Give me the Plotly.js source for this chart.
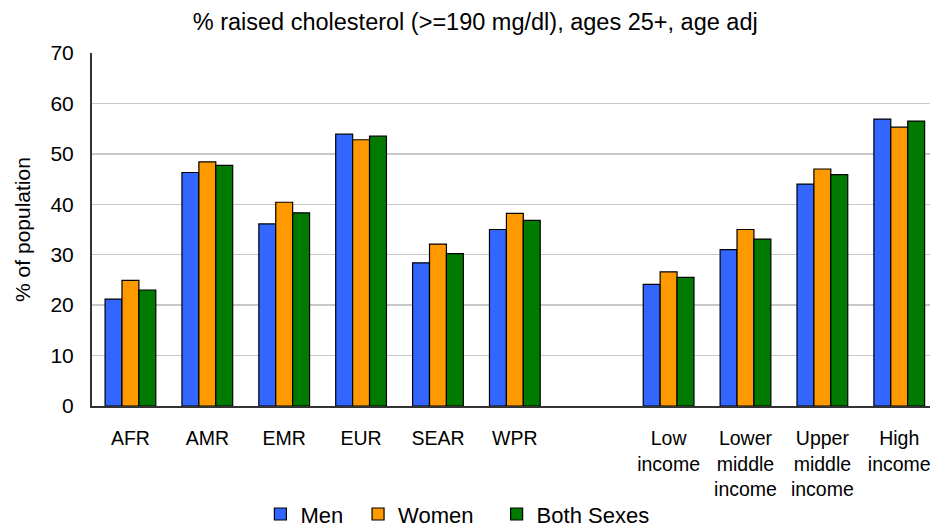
<!DOCTYPE html>
<html>
<head>
<meta charset="utf-8">
<script src="https://cdn.plot.ly/plotly-3.0.1.min.js"></script>
<style>html,body{margin:0;padding:0;background:#fff;overflow:hidden}#chart{width:930px;height:529px}</style>
</head>
<body>
<div id="chart"></div>
<script>
var categories = ["AFR", "AMR", "EMR", "EUR", "SEAR", "WPR", " ", "Low<br>income", "Lower<br>middle<br>income", "Upper<br>middle<br>income", "High<br>income"];
var men = [21.2, 46.3, 36.1, 53.9, 28.4, 35.0, null, 24.1, 31.0, 44.0, 56.9];
var women = [24.9, 48.4, 40.4, 52.8, 32.1, 38.2, null, 26.6, 35.0, 47.0, 55.3];
var both = [23.0, 47.7, 38.3, 53.5, 30.2, 36.8, null, 25.5, 33.1, 45.9, 56.5];
var seriesNames = ["Men", "Women", "Both Sexes"];
var colors = ["#3366FF", "#FF9900", "#007A00"];
var yTicks = [0, 10, 20, 30, 40, 50, 60, 70];

var legendIds = ["legend", "legend2", "legend3"];
var values = [men, women, both];
var traces = values.map(function (v, i) {
  return {
    type: "bar",
    name: seriesNames[i],
    x: categories,
    y: v,
    legend: legendIds[i],
    marker: { color: colors[i], line: { color: "#000000", width: 1.2 } },
    hoverinfo: "x+y"
  };
});

var font = "Liberation Sans, Arial, sans-serif";
var legendX = [0.28, 0.385, 0.534];
function legendBox(i) {
  return {
    orientation: "h",
    xref: "container", yref: "container",
    x: legendX[i], xanchor: "left",
    y: 0.028, yanchor: "middle",
    font: { family: font, size: 22, color: "#000000" },
    itemwidth: 30,
    bgcolor: "rgba(0,0,0,0)"
  };
}
var layout = {
  width: 930,
  height: 529,
  margin: { l: 92, r: 0, t: 53, b: 123, autoexpand: false },
  paper_bgcolor: "#ffffff",
  plot_bgcolor: "#ffffff",
  font: { family: font, color: "#000000", size: 15 },
  title: {
    text: "% raised cholesterol (>=190 mg/dl), ages 25+, age adj",
    font: { family: font, size: 23.5, color: "#000000" },
    x: 0.511, xanchor: "center", y: 0.958, yanchor: "middle"
  },
  barmode: "group",
  bargap: 0.34,
  bargroupgap: 0,
  showlegend: true,
  legend: legendBox(0),
  legend2: legendBox(1),
  legend3: legendBox(2),
  xaxis: {
    type: "category",
    range: [-0.5, 10.4],
    showgrid: false,
    showline: true,
    linecolor: "#333333",
    linewidth: 2,
    ticks: "outside",
    ticklen: 14,
    tickcolor: "rgba(0,0,0,0)",
    tickangle: 0,
    tickfont: { family: font, size: 19.5, color: "#000000" },
    fixedrange: true
  },
  yaxis: {
    range: [0, 70],
    tickvals: yTicks,
    ticktext: yTicks.map(String),
    showgrid: true,
    gridcolor: "#c8c8c8",
    gridwidth: 1.5,
    showline: true,
    linecolor: "#333333",
    linewidth: 2,
    zeroline: false,
    ticks: "outside",
    ticklen: 12,
    tickcolor: "rgba(0,0,0,0)",
    tickfont: { family: font, size: 21, color: "#000000" },
    title: { text: "% of population", font: { family: font, size: 21, color: "#000000" }, standoff: 14 },
    fixedrange: true
  }
};

Plotly.newPlot("chart", traces, layout, { displayModeBar: false, staticPlot: true });
</script>
</body>
</html>
